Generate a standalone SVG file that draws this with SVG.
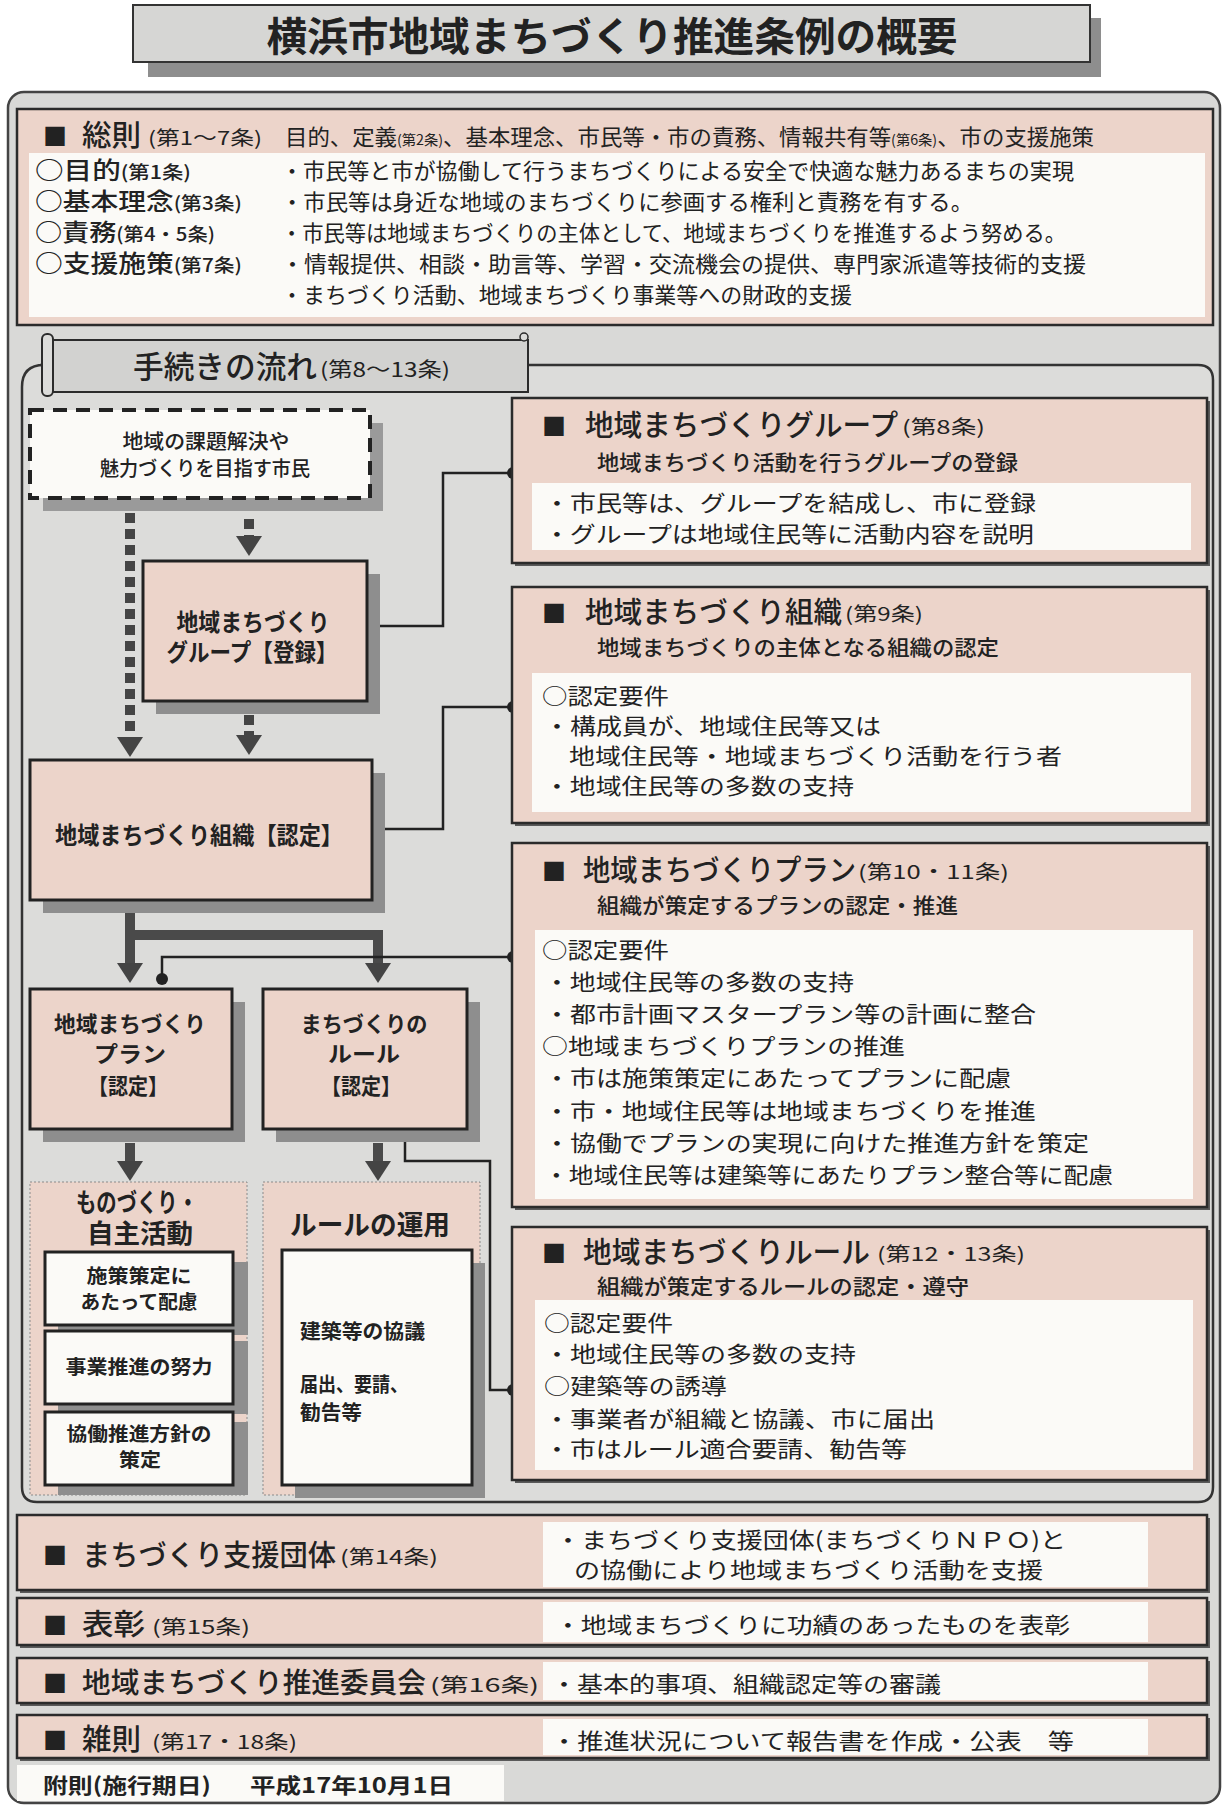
<svg xmlns="http://www.w3.org/2000/svg" width="1225" height="1807" viewBox="0 0 1225 1807">
<style>
.t{font-family:"Noto Sans CJK JP","Noto Sans CJK SC",sans-serif;fill:#222}
.b{font-weight:bold}
.m{font-weight:500}
.c{text-anchor:middle}
.pink{fill:#ecd4ca;stroke:#2b2b2b;stroke-width:2.5}
.node{fill:#ecd4ca;stroke:#222;stroke-width:3}
.wbox{fill:#fbfaf7;stroke:#222;stroke-width:3}
.white{fill:#fbfaf7}
.shadow{fill:#8e8e8e}
.sshadow{fill:#5a5a5a}
.panel{fill:#ecd4ca;stroke:#8a8a8a;stroke-width:1;stroke-dasharray:2 2}
.conn{fill:none;stroke:#222;stroke-width:2.5}
.thick{fill:none;stroke:#4a4a4a;stroke-width:10}
.dotted{fill:none;stroke:#444;stroke-width:10;stroke-dasharray:10 6}
.dot{fill:#222}
</style>
<defs>
<marker id="ah" viewBox="0 0 20 26" refX="0" refY="13" markerWidth="20" markerHeight="26" markerUnits="userSpaceOnUse" orient="auto"><path d="M0,0 L20,13 L0,26 z" fill="#444"/></marker>
</defs>
<rect width="1225" height="1807" fill="#ffffff"/>

<g id="title">
<rect x="148" y="18" width="953" height="59" class="shadow"/>
<rect x="133" y="5" width="957" height="57" fill="#d6d6d4" stroke="#333" stroke-width="2"/>
<text x="612" y="51" class="t b c" font-size="40" textLength="691" lengthAdjust="spacingAndGlyphs">横浜市地域まちづくり推進条例の概要</text>
</g>

<rect id="outer" x="8" y="92" width="1212" height="1711" rx="16" fill="#d9d9d7" stroke="#444" stroke-width="2.5"/>

<g id="soku">
<rect x="17" y="109" width="1196" height="216" class="pink"/>
<rect x="29" y="153" width="1176" height="164" class="white"/>
<text x="43" y="145" class="t" font-size="24">■</text>
<text x="82" y="146" class="t m" font-size="29" textLength="59" lengthAdjust="spacingAndGlyphs">総則</text>
<text x="148" y="145" class="t" font-size="19" textLength="114" lengthAdjust="spacingAndGlyphs">(第1～7条)</text>
<text x="285" y="145" class="t" font-size="22" textLength="809" lengthAdjust="spacingAndGlyphs">目的、定義<tspan font-size="14">(第2条)</tspan>、基本理念、市民等・市の責務、情報共有等<tspan font-size="14">(第6条)</tspan>、市の支援施策</text>
<text x="35" y="179" class="t m" font-size="24" textLength="156" lengthAdjust="spacingAndGlyphs">○目的<tspan font-size="18">(第1条)</tspan></text>
<text x="35" y="210" class="t m" font-size="24" textLength="207" lengthAdjust="spacingAndGlyphs">○基本理念<tspan font-size="18">(第3条)</tspan></text>
<text x="35" y="241" class="t m" font-size="24" textLength="180" lengthAdjust="spacingAndGlyphs">○責務<tspan font-size="18">(第4・5条)</tspan></text>
<text x="35" y="272" class="t m" font-size="24" textLength="207" lengthAdjust="spacingAndGlyphs">○支援施策<tspan font-size="18">(第7条)</tspan></text>
<text x="281" y="179" class="t" font-size="22" textLength="793" lengthAdjust="spacingAndGlyphs">・市民等と市が協働して行うまちづくりによる安全で快適な魅力あるまちの実現</text>
<text x="281" y="210" class="t" font-size="22" textLength="692" lengthAdjust="spacingAndGlyphs">・市民等は身近な地域のまちづくりに参画する権利と責務を有する。</text>
<text x="281" y="241" class="t" font-size="22" textLength="785" lengthAdjust="spacingAndGlyphs">・市民等は地域まちづくりの主体として、地域まちづくりを推進するよう努める。</text>
<text x="281" y="272" class="t" font-size="22" textLength="805" lengthAdjust="spacingAndGlyphs">・情報提供、相談・助言等、学習・交流機会の提供、専門家派遣等技術的支援</text>
<text x="281" y="303" class="t" font-size="22" textLength="571" lengthAdjust="spacingAndGlyphs">・まちづくり活動、地域まちづくり事業等への財政的支援</text>
</g>

<g id="flow-frame">
<path d="M40,365 H1198 Q1213,365 1213,380 V1487 Q1213,1502 1198,1502 H37 Q22,1502 22,1487 V387 Q22,365 44,365 Z" fill="#dcdcda" stroke="#333" stroke-width="2.5"/>
<rect x="50" y="340" width="478" height="52" fill="#d2d2d0" stroke="#2b2b2b" stroke-width="2"/>
<rect x="42" y="334" width="11" height="62" rx="5" fill="#dcdcda" stroke="#2b2b2b" stroke-width="2"/>
<circle cx="524" cy="337" r="4" fill="#dcdcda" stroke="#2b2b2b" stroke-width="1.5"/>
<text x="133" y="378" class="t m" font-size="31" textLength="184" lengthAdjust="spacingAndGlyphs">手続きの流れ</text>
<text x="320" y="377" class="t" font-size="20" textLength="130" lengthAdjust="spacingAndGlyphs">(第8～13条)</text>
</g>

<g id="connectors">
<path class="dotted" d="M130,513 V737" marker-end="url(#ah)"/>
<path class="dotted" d="M249,519 V536" marker-end="url(#ah)"/>
<path class="dotted" d="M249,715 V735" stroke-dasharray="8 5" marker-end="url(#ah)"/>
<path class="thick" d="M130,913 V963" marker-end="url(#ah)"/>
<path class="thick" d="M130,935 H378 V963" marker-end="url(#ah)"/>
<path class="thick" d="M130,1143 V1161" marker-end="url(#ah)"/>
<path class="thick" d="M378,1143 V1161" marker-end="url(#ah)"/>
<path class="conn" d="M372,626 H443 V473 H513"/>
<path class="conn" d="M378,829 H443 V707 H513"/>
<path class="conn" d="M162,979 V957 H513"/>
<path class="conn" d="M405,1133 V1161 H490 V1390 H513"/>
<circle cx="372" cy="626" r="6" class="dot"/><circle cx="513" cy="473" r="6" class="dot"/>
<circle cx="378" cy="829" r="6" class="dot"/><circle cx="513" cy="707" r="6" class="dot"/>
<circle cx="162" cy="979" r="6" class="dot"/><circle cx="513" cy="957" r="6" class="dot"/>
<circle cx="405" cy="1133" r="6" class="dot"/><circle cx="513" cy="1390" r="6" class="dot"/>
</g>

<g id="citizens">
<rect x="43" y="423" width="340" height="88" fill="#9a9a9a"/>
<rect x="30" y="410" width="340" height="88" fill="#fbfaf7" stroke="#222" stroke-width="4" stroke-dasharray="14 9"/>
<text x="206" y="449" class="t m c" font-size="20" textLength="167" lengthAdjust="spacingAndGlyphs">地域の課題解決や</text>
<text x="205" y="476" class="t m c" font-size="20" textLength="210" lengthAdjust="spacingAndGlyphs">魅力づくりを目指す市民</text>
</g>

<g id="group-node">
<rect x="156" y="574" width="224" height="140" class="shadow"/>
<rect x="143" y="561" width="224" height="140" class="node"/>
<text x="253" y="631" class="t b c" font-size="24" textLength="153" lengthAdjust="spacingAndGlyphs">地域まちづくり</text>
<text x="252" y="661" class="t b c" font-size="24" textLength="171" lengthAdjust="spacingAndGlyphs">グループ【登録】</text>
</g>

<g id="org-node">
<rect x="43" y="773" width="342" height="140" class="shadow"/>
<rect x="30" y="760" width="342" height="140" class="node"/>
<text x="199" y="844" class="t b c" font-size="24" textLength="288" lengthAdjust="spacingAndGlyphs">地域まちづくり組織【認定】</text>
</g>

<g id="plan-node">
<rect x="43" y="1002" width="202" height="140" class="shadow"/>
<rect x="30" y="989" width="202" height="140" class="node"/>
<text x="130" y="1032" class="t b c" font-size="22" textLength="152" lengthAdjust="spacingAndGlyphs">地域まちづくり</text>
<text x="130" y="1062" class="t b c" font-size="22" textLength="72" lengthAdjust="spacingAndGlyphs">プラン</text>
<text x="128" y="1094" class="t b c" font-size="22" textLength="80" lengthAdjust="spacingAndGlyphs">【認定】</text>
</g>

<g id="rule-node">
<rect x="276" y="1002" width="204" height="140" class="shadow"/>
<rect x="263" y="989" width="204" height="140" class="node"/>
<text x="364" y="1032" class="t b c" font-size="22" textLength="127" lengthAdjust="spacingAndGlyphs">まちづくりの</text>
<text x="364" y="1062" class="t b c" font-size="22" textLength="72" lengthAdjust="spacingAndGlyphs">ルール</text>
<text x="361" y="1094" class="t b c" font-size="22" textLength="80" lengthAdjust="spacingAndGlyphs">【認定】</text>
</g>

<g id="monozukuri">
<rect x="30" y="1182" width="217" height="313" class="panel"/>
<text x="137" y="1212" class="t b c" font-size="26" textLength="122" lengthAdjust="spacingAndGlyphs">ものづくり・</text>
<text x="140" y="1243" class="t b c" font-size="26" textLength="106" lengthAdjust="spacingAndGlyphs">自主活動</text>
<rect x="58" y="1262" width="190" height="73" class="shadow"/>
<rect x="45" y="1252" width="188" height="73" class="wbox"/>
<text x="139" y="1283" class="t b c" font-size="19" textLength="105" lengthAdjust="spacingAndGlyphs">施策策定に</text>
<text x="139" y="1309" class="t b c" font-size="19" textLength="117" lengthAdjust="spacingAndGlyphs">あたって配慮</text>
<rect x="58" y="1341" width="190" height="73" class="shadow"/>
<rect x="45" y="1331" width="188" height="73" class="wbox"/>
<text x="139" y="1374" class="t b c" font-size="19" textLength="147" lengthAdjust="spacingAndGlyphs">事業推進の努力</text>
<rect x="58" y="1422" width="190" height="73" class="shadow"/>
<rect x="45" y="1412" width="188" height="73" class="wbox"/>
<text x="139" y="1441" class="t b c" font-size="19" textLength="145" lengthAdjust="spacingAndGlyphs">協働推進方針の</text>
<text x="140" y="1467" class="t b c" font-size="19" textLength="42" lengthAdjust="spacingAndGlyphs">策定</text>
</g>

<g id="rule-operation">
<rect x="263" y="1182" width="217" height="313" class="panel"/>
<text x="370" y="1235" class="t b c" font-size="27" textLength="160" lengthAdjust="spacingAndGlyphs">ルールの運用</text>
<rect x="295" y="1263" width="190" height="235" class="shadow"/>
<rect x="282" y="1250" width="190" height="235" class="wbox"/>
<text x="300" y="1339" class="t b" font-size="20" textLength="125" lengthAdjust="spacingAndGlyphs">建築等の協議</text>
<text x="300" y="1392" class="t b" font-size="20" textLength="108" lengthAdjust="spacingAndGlyphs">届出、要請、</text>
<text x="300" y="1420" class="t b" font-size="20" textLength="62" lengthAdjust="spacingAndGlyphs">勧告等</text>
</g>

<g id="box-group">
<rect x="515" y="401" width="695" height="165" class="sshadow"/>
<rect x="512" y="398" width="695" height="165" class="pink"/>
<rect x="532" y="483" width="659" height="67" class="white"/>
<text x="542" y="435" class="t" font-size="24">■</text>
<text x="585" y="436" class="t m" font-size="29" textLength="313" lengthAdjust="spacingAndGlyphs">地域まちづくりグループ</text>
<text x="902" y="434" class="t" font-size="19" textLength="83" lengthAdjust="spacingAndGlyphs">(第8条)</text>
<text x="597" y="470" class="t m" font-size="21" textLength="421" lengthAdjust="spacingAndGlyphs">地域まちづくり活動を行うグループの登録</text>
<text x="544" y="511" class="t" font-size="22" textLength="492" lengthAdjust="spacingAndGlyphs">・市民等は、グループを結成し、市に登録</text>
<text x="544" y="542" class="t" font-size="22" textLength="490" lengthAdjust="spacingAndGlyphs">・グループは地域住民等に活動内容を説明</text>
</g>

<g id="box-org">
<rect x="515" y="590" width="695" height="236" class="sshadow"/>
<rect x="512" y="587" width="695" height="236" class="pink"/>
<rect x="532" y="673" width="659" height="139" class="white"/>
<text x="542" y="622" class="t" font-size="24">■</text>
<text x="585" y="623" class="t m" font-size="29" textLength="257" lengthAdjust="spacingAndGlyphs">地域まちづくり組織</text>
<text x="845" y="621" class="t" font-size="19" textLength="78" lengthAdjust="spacingAndGlyphs">(第9条)</text>
<text x="597" y="655" class="t m" font-size="21" textLength="402" lengthAdjust="spacingAndGlyphs">地域まちづくりの主体となる組織の認定</text>
<text x="542" y="704" class="t" font-size="22" textLength="127" lengthAdjust="spacingAndGlyphs">○認定要件</text>
<text x="544" y="734" class="t" font-size="22" textLength="337" lengthAdjust="spacingAndGlyphs">・構成員が、地域住民等又は</text>
<text x="569" y="764" class="t" font-size="22" textLength="493" lengthAdjust="spacingAndGlyphs">地域住民等・地域まちづくり活動を行う者</text>
<text x="544" y="794" class="t" font-size="22" textLength="310" lengthAdjust="spacingAndGlyphs">・地域住民等の多数の支持</text>
</g>

<g id="box-plan">
<rect x="515" y="846" width="695" height="364" class="sshadow"/>
<rect x="512" y="843" width="695" height="364" class="pink"/>
<rect x="535" y="930" width="658" height="269" class="white"/>
<text x="542" y="880" class="t" font-size="24">■</text>
<text x="583" y="881" class="t m" font-size="29" textLength="273" lengthAdjust="spacingAndGlyphs">地域まちづくりプラン</text>
<text x="858" y="879" class="t" font-size="19" textLength="151" lengthAdjust="spacingAndGlyphs">(第10・11条)</text>
<text x="597" y="913" class="t m" font-size="21" textLength="361" lengthAdjust="spacingAndGlyphs">組織が策定するプランの認定・推進</text>
<text x="542" y="958" class="t" font-size="22" textLength="127" lengthAdjust="spacingAndGlyphs">○認定要件</text>
<text x="544" y="990" class="t" font-size="22" textLength="310" lengthAdjust="spacingAndGlyphs">・地域住民等の多数の支持</text>
<text x="544" y="1022" class="t" font-size="22" textLength="492" lengthAdjust="spacingAndGlyphs">・都市計画マスタープラン等の計画に整合</text>
<text x="542" y="1054" class="t" font-size="22" textLength="363" lengthAdjust="spacingAndGlyphs">○地域まちづくりプランの推進</text>
<text x="544" y="1086" class="t" font-size="22" textLength="467" lengthAdjust="spacingAndGlyphs">・市は施策策定にあたってプランに配慮</text>
<text x="544" y="1119" class="t" font-size="22" textLength="492" lengthAdjust="spacingAndGlyphs">・市・地域住民等は地域まちづくりを推進</text>
<text x="544" y="1151" class="t" font-size="22" textLength="545" lengthAdjust="spacingAndGlyphs">・協働でプランの実現に向けた推進方針を策定</text>
<text x="544" y="1183" class="t" font-size="22" textLength="569" lengthAdjust="spacingAndGlyphs">・地域住民等は建築等にあたりプラン整合等に配慮</text>
</g>

<g id="box-rule">
<rect x="515" y="1230" width="695" height="253" class="sshadow"/>
<rect x="512" y="1227" width="695" height="253" class="pink"/>
<rect x="535" y="1300" width="658" height="170" class="white"/>
<text x="542" y="1262" class="t" font-size="24">■</text>
<text x="583" y="1263" class="t m" font-size="29" textLength="287" lengthAdjust="spacingAndGlyphs">地域まちづくりルール</text>
<text x="877" y="1261" class="t" font-size="19" textLength="148" lengthAdjust="spacingAndGlyphs">(第12・13条)</text>
<text x="597" y="1294" class="t m" font-size="21" textLength="372" lengthAdjust="spacingAndGlyphs">組織が策定するルールの認定・遵守</text>
<text x="544" y="1331" class="t" font-size="22" textLength="129" lengthAdjust="spacingAndGlyphs">○認定要件</text>
<text x="544" y="1362" class="t" font-size="22" textLength="312" lengthAdjust="spacingAndGlyphs">・地域住民等の多数の支持</text>
<text x="544" y="1394" class="t" font-size="22" textLength="183" lengthAdjust="spacingAndGlyphs">○建築等の誘導</text>
<text x="544" y="1427" class="t" font-size="22" textLength="391" lengthAdjust="spacingAndGlyphs">・事業者が組織と協議、市に届出</text>
<text x="544" y="1457" class="t" font-size="22" textLength="363" lengthAdjust="spacingAndGlyphs">・市はルール適合要請、勧告等</text>
</g>

<g id="row-support">
<rect x="20" y="1518" width="1190" height="75" class="sshadow"/>
<rect x="17" y="1515" width="1190" height="75" class="pink"/>
<rect x="543" y="1522" width="605" height="65" class="white"/>
<text x="43" y="1564" class="t" font-size="24">■</text>
<text x="82" y="1566" class="t m" font-size="29" textLength="254" lengthAdjust="spacingAndGlyphs">まちづくり支援団体</text>
<text x="340" y="1564" class="t" font-size="19" textLength="98" lengthAdjust="spacingAndGlyphs">(第14条)</text>
<text x="555" y="1548" class="t" font-size="22" textLength="511" lengthAdjust="spacingAndGlyphs">・まちづくり支援団体(まちづくりＮＰＯ)と</text>
<text x="574" y="1578" class="t" font-size="22" textLength="469" lengthAdjust="spacingAndGlyphs">の協働により地域まちづくり活動を支援</text>
</g>

<g id="row-award">
<rect x="20" y="1601" width="1190" height="47" class="sshadow"/>
<rect x="17" y="1598" width="1190" height="47" class="pink"/>
<rect x="543" y="1602" width="605" height="40" class="white"/>
<text x="43" y="1634" class="t" font-size="24">■</text>
<text x="82" y="1635" class="t m" font-size="29" textLength="63" lengthAdjust="spacingAndGlyphs">表彰</text>
<text x="152" y="1634" class="t" font-size="19" textLength="98" lengthAdjust="spacingAndGlyphs">(第15条)</text>
<text x="555" y="1633" class="t" font-size="22" textLength="515" lengthAdjust="spacingAndGlyphs">・地域まちづくりに功績のあったものを表彰</text>
</g>

<g id="row-committee">
<rect x="20" y="1661" width="1190" height="45" class="sshadow"/>
<rect x="17" y="1658" width="1190" height="45" class="pink"/>
<rect x="543" y="1662" width="605" height="38" class="white"/>
<text x="43" y="1692" class="t" font-size="24">■</text>
<text x="82" y="1693" class="t m" font-size="28" textLength="344" lengthAdjust="spacingAndGlyphs">地域まちづくり推進委員会</text>
<text x="430" y="1692" class="t" font-size="19" textLength="109" lengthAdjust="spacingAndGlyphs">(第16条)</text>
<text x="551" y="1692" class="t" font-size="22" textLength="390" lengthAdjust="spacingAndGlyphs">・基本的事項、組織認定等の審議</text>
</g>

<g id="row-misc">
<rect x="20" y="1718" width="1190" height="43" class="sshadow"/>
<rect x="17" y="1715" width="1190" height="43" class="pink"/>
<rect x="543" y="1719" width="605" height="36" class="white"/>
<text x="43" y="1749" class="t" font-size="24">■</text>
<text x="82" y="1750" class="t m" font-size="29" textLength="59" lengthAdjust="spacingAndGlyphs">雑則</text>
<text x="152" y="1749" class="t" font-size="19" textLength="145" lengthAdjust="spacingAndGlyphs">(第17・18条)</text>
<text x="551" y="1749" class="t" font-size="22" textLength="523" lengthAdjust="spacingAndGlyphs">・推進状況について報告書を作成・公表　等</text>
</g>

<g id="supplementary">
<rect x="17" y="1765" width="487" height="36" class="white"/>
<text x="43" y="1793" class="t b" font-size="21" textLength="168" lengthAdjust="spacingAndGlyphs">附則(施行期日)</text>
<text x="250" y="1793" class="t b" font-size="21" textLength="203" lengthAdjust="spacingAndGlyphs">平成17年10月1日</text>
</g>
</svg>
